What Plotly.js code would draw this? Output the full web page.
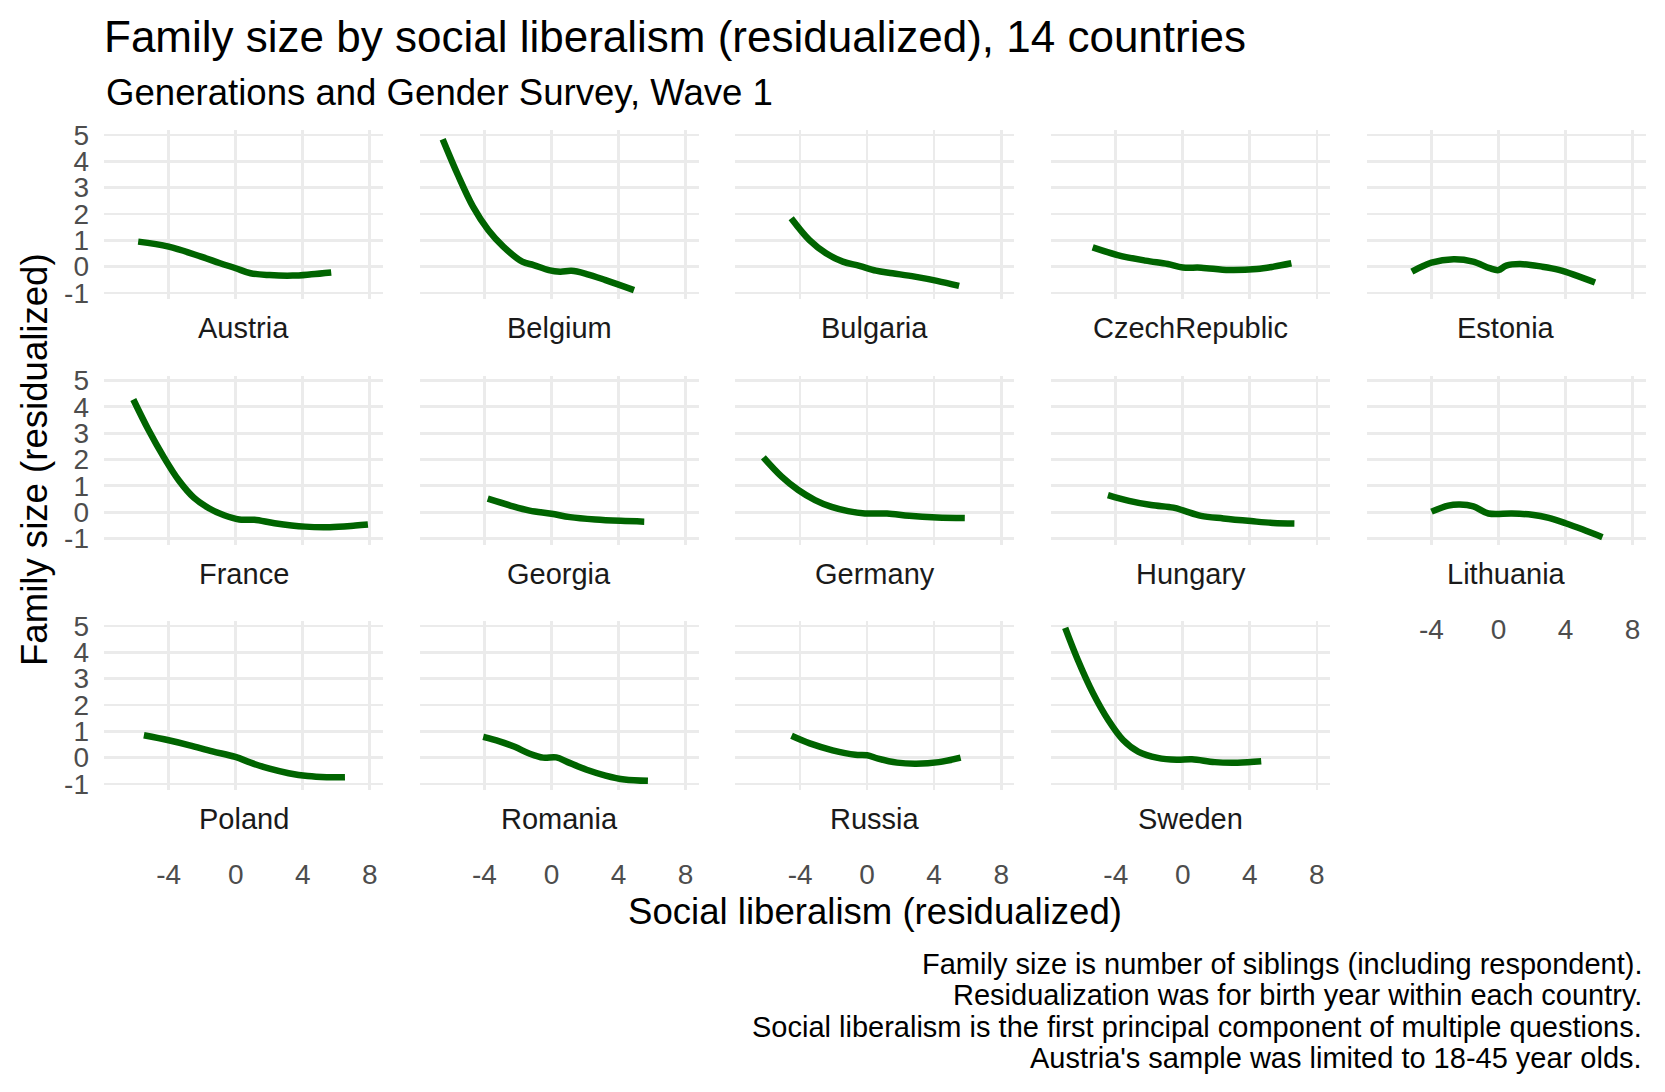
<!DOCTYPE html>
<html>
<head>
<meta charset="utf-8">
<script src="https://cdn.plot.ly/plotly-3.0.1.min.js"></script>
<style>
  html, body { margin: 0; padding: 0; background: #fff; }
  #chart { width: 1665px; height: 1092px; }
</style>
</head>
<body>
<div id="chart"></div>
<script>
// facet order, as in the reference
const countries = ['Austria', 'Belgium', 'Bulgaria', 'CzechRepublic', 'Estonia',
                   'France', 'Georgia', 'Germany', 'Hungary', 'Lithuania',
                   'Poland', 'Romania', 'Russia', 'Sweden'];

// smoothed curves (x = social liberalism, y = family size)
const austriaX = [-5.82, -4, -2.07, -0.93, 0, 0.89, 2.02, 3.39, 4.52, 5.7];
const austriaY = [0.95, 0.76, 0.38, 0.13, -0.06, -0.25, -0.32, -0.34, -0.29, -0.22];
const belgiumX = [-6.49, -5.58, -4.68, -3.77, -2.87, -1.74, -1.06, -0.16, 0.52, 1.2, 2.1, 3.23, 4.93];
const belgiumY = [4.84, 3.48, 2.28, 1.39, 0.76, 0.19, 0.06, -0.13, -0.19, -0.16, -0.28, -0.51, -0.89];
const bulgariaX = [-4.53, -3.44, -2.45, -1.45, -0.46, 0.53, 1.52, 2.84, 4.17, 5.49];
const bulgariaY = [1.84, 1.01, 0.51, 0.19, 0.03, -0.15, -0.25, -0.38, -0.54, -0.73];
const czechX = [-5.38, -3.89, -2.23, -0.9, 0, 1.1, 2.76, 4.42, 5.42, 6.48];
const czechY = [0.73, 0.44, 0.23, 0.10, -0.03, -0.04, -0.13, -0.09, 0.0, 0.13];
const estoniaX = [-5.17, -4.0, -2.68, -1.52, -0.53, 0, 0.46, 1.29, 2.6, 3.6, 4.7, 5.76];
const estoniaY = [-0.19, 0.15, 0.28, 0.19, -0.06, -0.13, 0.04, 0.10, 0.0, -0.12, -0.35, -0.6];
const franceX = [-6.11, -5.21, -4.31, -3.4, -2.5, -1.6, -0.69, 0.21, 1.11, 2.32, 4.13, 5.63, 7.14, 7.89];
const franceY = [4.28, 3.13, 2.11, 1.21, 0.55, 0.15, -0.12, -0.28, -0.29, -0.42, -0.55, -0.57, -0.51, -0.47];
const georgiaX = [-3.8, -2.5, -1.3, 0, 1.11, 2.62, 4.13, 5.54];
const georgiaY = [0.51, 0.26, 0.06, -0.06, -0.19, -0.28, -0.33, -0.36];
const germanyX = [-6.19, -5.1, -4.11, -3.11, -2.12, -1.13, -0.13, 1.19, 2.52, 4.17, 5.83];
const germanyY = [2.08, 1.35, 0.84, 0.46, 0.20, 0.04, -0.05, -0.05, -0.14, -0.2, -0.22];
const hungaryX = [-4.47, -3.21, -1.89, -0.56, 0.1, 1.09, 2.42, 4.07, 5.4, 6.66];
const hungaryY = [0.65, 0.43, 0.27, 0.17, 0.05, -0.14, -0.24, -0.34, -0.41, -0.43];
const lithuaniaX = [-4.0, -3.0, -2.3, -1.5, -0.6, 0.8, 2.0, 3.0, 4.0, 5.0, 6.2];
const lithuaniaY = [0.02, 0.25, 0.29, 0.22, -0.05, -0.05, -0.1, -0.22, -0.42, -0.65, -0.95];
const polandX = [-5.48, -4, -2.75, -1.39, -0.02, 0.89, 2.02, 3.16, 4.3, 5.43, 6.52];
const polandY = [0.85, 0.66, 0.47, 0.24, 0.03, -0.19, -0.42, -0.59, -0.70, -0.74, -0.74];
const romaniaX = [-4.07, -3.1, -2.19, -1.29, -0.5, 0.29, 0.97, 2.1, 3.23, 4.36, 5.76];
const romaniaY = [0.79, 0.62, 0.41, 0.15, 0.0, 0.01, -0.17, -0.46, -0.68, -0.83, -0.88];
const russiaX = [-4.51, -3.42, -2.06, -0.7, 0, 0.66, 1.79, 2.93, 4.29, 5.58];
const russiaY = [0.83, 0.54, 0.28, 0.11, 0.09, -0.04, -0.19, -0.23, -0.17, 0.0];
const swedenX = [-7.02, -6.27, -5.36, -4.45, -3.55, -2.64, -1.5, -0.36, 0.55, 1.91, 3.27, 4.68];
const swedenY = [4.93, 3.72, 2.45, 1.43, 0.66, 0.22, -0.01, -0.08, -0.06, -0.17, -0.19, -0.14];

const curvesX = [austriaX, belgiumX, bulgariaX, czechX, estoniaX, franceX, georgiaX,
                 germanyX, hungaryX, lithuaniaX, polandX, romaniaX, russiaX, swedenX];
const curvesY = [austriaY, belgiumY, bulgariaY, czechY, estoniaY, franceY, georgiaY,
                 germanyY, hungaryY, lithuaniaY, polandY, romaniaY, russiaY, swedenY];

const xTickVals = [-4, 0, 4, 8];
const xTickText = ['-4', '0', '4', '8'];
const yTickVals = [-1, 0, 1, 2, 3, 4, 5];
const yTickText = ['-1', '0', '1', '2', '3', '4', '5'];

const captionLines = [
  'Family size is number of siblings (including respondent).',
  'Residualization was for birth year within each country.',
  'Social liberalism is the first principal component of multiple questions.',
  "Austria's sample was limited to 18-45 year olds."
];

// page geometry, in pixels
const W = 1665, H = 1092;
const nCols = 5;
const panelLeft = 104, panelW = 279, colStep = 315.7;
const panelTop = 130, panelH = 169.3, rowStep = 245.5;

const FONT = 'Liberation Sans, Arial, Helvetica, sans-serif';
const gridColor = '#EBEBEB';

const traces = [];
const annotations = [];
const layout = {
  width: W,
  height: H,
  margin: {l: 0, r: 0, t: 0, b: 0},
  paper_bgcolor: '#fff',
  plot_bgcolor: '#fff',
  showlegend: false,
  font: {family: FONT, color: '#000'},
  title: {
    text: 'Family size by social liberalism (residualized), 14 countries',
    font: {family: FONT, size: 44, color: '#000'},
    x: 104 / W, xanchor: 'left', xref: 'paper',
    y: 1 - 37 / H, yanchor: 'middle', yref: 'container'
  }
};

countries.forEach(function(name, i) {
  const col = i % nCols;
  const row = Math.floor(i / nCols);
  const n = i + 1;
  const sfx = n === 1 ? '' : String(n);
  const x0 = panelLeft + col * colStep;
  const y0 = panelTop + row * rowStep;
  const bottomRow = i + nCols >= countries.length;

  layout['xaxis' + sfx] = {
    domain: [x0 / W, (x0 + panelW) / W],
    anchor: 'y' + sfx,
    range: [-7.86, 8.79],
    tickvals: xTickVals,
    ticktext: xTickText,
    showticklabels: bottomRow,
    ticklabelstandoff: 65,
    tickfont: {family: FONT, size: 28, color: '#4D4D4D'},
    ticks: '',
    showgrid: true,
    gridcolor: gridColor,
    gridwidth: 2.7,
    zeroline: false,
    showline: false,
    fixedrange: true
  };
  layout['yaxis' + sfx] = {
    domain: [1 - (y0 + panelH) / H, 1 - y0 / H],
    anchor: 'x' + sfx,
    range: [-1.24, 5.19],
    tickvals: yTickVals,
    ticktext: yTickText,
    showticklabels: col === 0,
    ticklabelstandoff: 14,
    tickfont: {family: FONT, size: 28, color: '#4D4D4D'},
    ticks: '',
    showgrid: true,
    gridcolor: gridColor,
    gridwidth: 2.7,
    zeroline: false,
    showline: false,
    fixedrange: true
  };

  traces.push({
    type: 'scatter',
    mode: 'lines',
    x: curvesX[i],
    y: curvesY[i],
    xaxis: 'x' + sfx,
    yaxis: 'y' + sfx,
    line: {color: '#006400', width: 6.5, shape: 'spline', smoothing: 1},
    hoverinfo: 'skip'
  });

  // strip label under each panel
  annotations.push({
    text: name,
    xref: 'paper', yref: 'paper',
    x: (x0 + panelW / 2) / W,
    y: 1 - (y0 + panelH + 29) / H,
    xanchor: 'center', yanchor: 'middle',
    showarrow: false,
    font: {family: FONT, size: 29, color: '#1A1A1A'}
  });
});

// subtitle
annotations.push({
  text: 'Generations and Gender Survey, Wave 1',
  xref: 'paper', yref: 'paper',
  x: 104 / W, y: 1 - 92 / H,
  xanchor: 'left', yanchor: 'middle',
  showarrow: false,
  font: {family: FONT, size: 36.6, color: '#000'}
});

// axis titles
annotations.push({
  text: 'Social liberalism (residualized)',
  xref: 'paper', yref: 'paper',
  x: 875 / W, y: 1 - 911 / H,
  xanchor: 'center', yanchor: 'middle',
  showarrow: false,
  font: {family: FONT, size: 36.6, color: '#000'}
});
annotations.push({
  text: 'Family size (residualized)',
  xref: 'paper', yref: 'paper',
  x: 34 / W, y: 1 - 460 / H,
  xanchor: 'center', yanchor: 'middle',
  textangle: -90,
  showarrow: false,
  font: {family: FONT, size: 36.6, color: '#000'}
});

// caption, right aligned, one line per annotation
captionLines.forEach(function(line, k) {
  annotations.push({
    text: line,
    xref: 'paper', yref: 'paper',
    x: 1644 / W, y: 1 - (964 + k * 31.3) / H,
    xanchor: 'right', yanchor: 'middle',
    showarrow: false,
    font: {family: FONT, size: 29, color: '#000'}
  });
});

layout.annotations = annotations;

Plotly.newPlot('chart', traces, layout, {displayModeBar: false, staticPlot: true});
</script>
</body>
</html>
